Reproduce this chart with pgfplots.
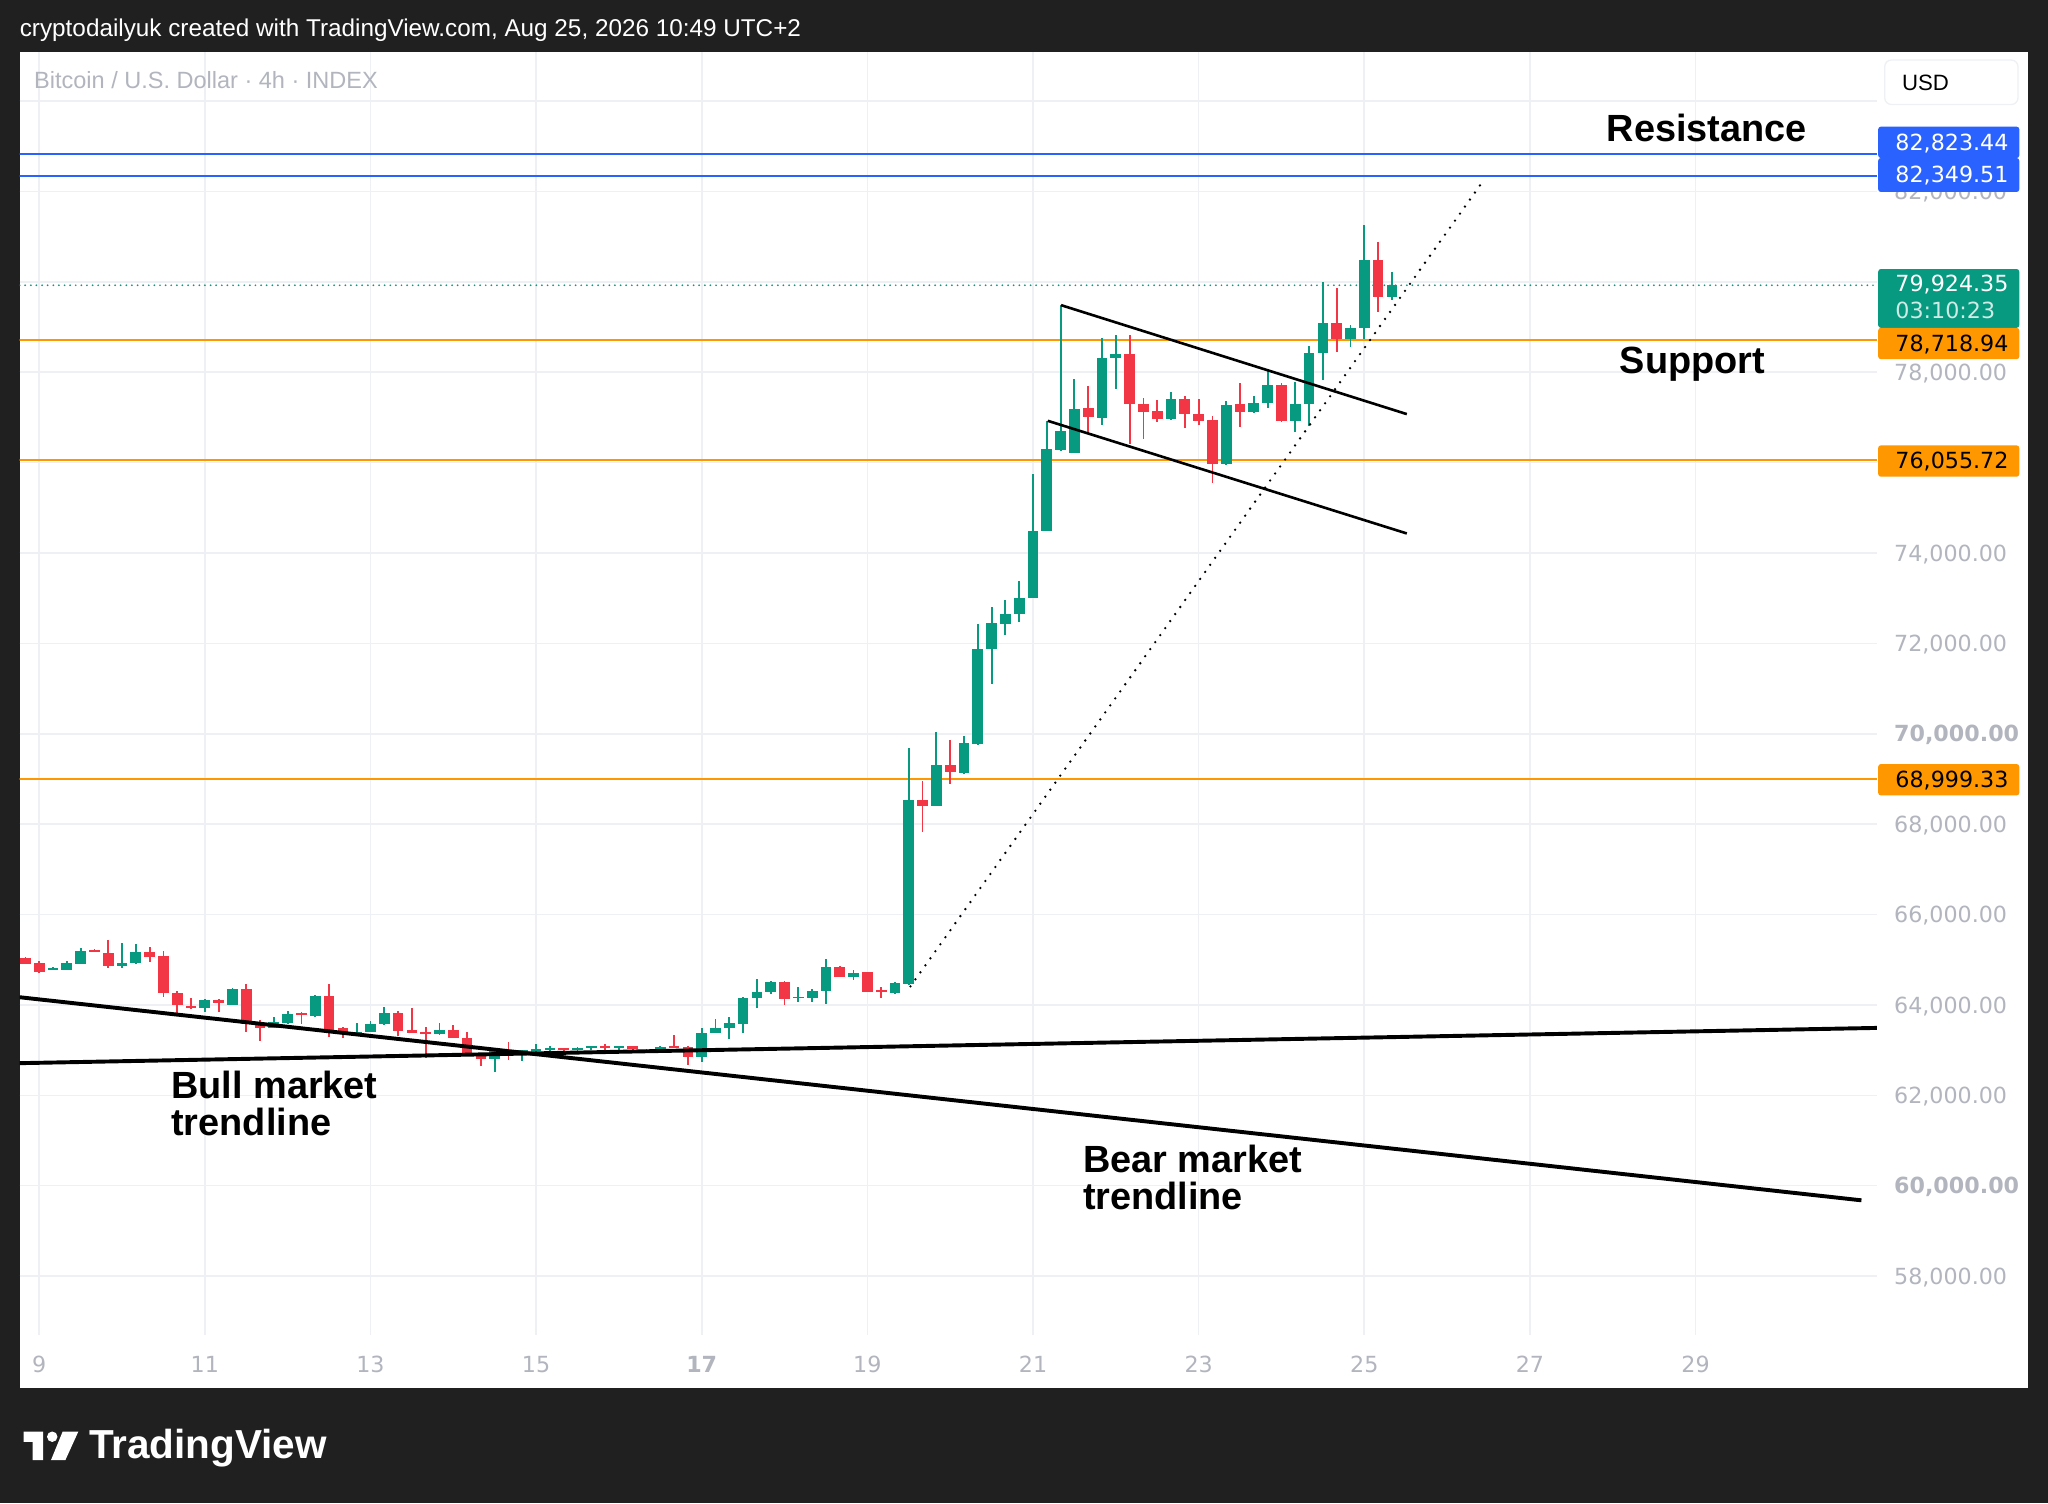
\documentclass[border=0pt]{standalone}
\usepackage{fontspec}
\setmainfont{Liberation Sans}
\newfontfamily\numfont{DejaVu Sans}
\usepackage{pgfplots}
\pgfplotsset{compat=1.18}
\usepackage{pgfplotstable}
\definecolor{bgc}{HTML}{202020}
\definecolor{tvgreen}{HTML}{089981}
\definecolor{tvred}{HTML}{F23645}
\definecolor{tvorange}{HTML}{FF9800}
\definecolor{tvblue}{HTML}{2962FF}
\definecolor{labc}{HTML}{B2B5BE}
\definecolor{gridc}{HTML}{EFF0F3}
\newcommand\labfont{\numfont\fontsize{17}{20}\selectfont}
\newcommand\annfont{\bfseries\fontsize{29}{29}\selectfont}

% candles: k = 4h index (day = 8.8333 + k/6), open high low close
\pgfplotstableread{
k o h l c
2 64780 64832 64780 64810
3 64780 64980 64780 64920
4 64913 65252 64913 65193
7 64869 65363 64810 64935
8 64935 65341 64913 65164
13 63925 64131 63851 64109
15 63999 64367 63999 64353
18 63482 63740 63482 63615
19 63593 63873 63571 63799
21 63762 64220 63740 64198
24 63349 63607 63320 63394
25 63408 63645 63394 63578
26 63578 63962 63556 63814
30 63349 63607 63335 63445
34 62805 63004 62510 63004
36 62967 63004 62761 63004
37 62982 63129 62930 63026
38 63004 63100 62952 63056
40 63004 63078 62930 63056
41 63041 63100 63004 63093
43 63056 63100 62967 63100
46 62952 63093 62952 63078
49 62857 63483 62731 63387
50 63373 63683 63373 63498
51 63483 63727 63247 63594
52 63579 64184 63388 64162
53 64147 64575 63941 64295
54 64280 64531 64236 64516
56 64147 64405 64074 64184
57 64147 64346 64074 64317
58 64310 65018 64015 64833
60 64612 64774 64553 64715
63 64258 64502 64236 64479
64 64457 69687 64440 68533
66 68407 70050 68391 69299
68 69141 69956 69118 69790
69 69766 72437 69750 71883
70 71868 72816 71093 72452
71 72437 72958 72184 72658
72 72658 73385 72484 72998
73 73013 75755 73013 74491
74 74491 76926 74491 76298
75 76283 79484 76261 76704
76 76224 77847 76210 77198
78 76999 78747 76829 78326
79 78326 78821 77640 78415
83 76962 77552 76947 77419
87 75966 77367 75951 77279
89 77124 77478 77109 77316
90 77316 78031 77205 77722
92 76925 77788 76682 77294
93 77294 78585 76814 78437
94 78422 80001 77832 79086
96 78732 79049 78548 78976
97 78976 81255 78732 80480
99 79669 80229 79602 79924
}\upc
\pgfplotstableread{
k o h l c
0 65046 65068 64906 64906
1 64920 64980 64714 64736
5 65216 65230 65179 65179
6 65157 65437 64825 64861
9 65164 65289 64957 65068
10 65083 65201 64168 64257
11 64271 64308 63777 63999
12 63984 64161 63903 63925
14 64109 64131 63836 64035
16 64353 64456 63408 63571
17 63571 63667 63202 63482
20 63814 63851 63571 63792
22 64198 64456 63298 63408
23 63482 63519 63261 63408
27 63814 63866 63320 63431
28 63445 63940 63371 63371
29 63408 63519 62833 63371
31 63445 63556 63261 63276
32 63276 63408 62877 62877
33 62930 62930 62657 62805
35 63004 63188 62783 62967
39 63041 63056 62967 62997
42 63093 63129 62997 63056
44 63093 63100 62997 63026
45 63004 63026 62930 62967
47 63100 63336 63056 63056
48 63078 63093 62672 62857
55 64516 64531 63999 64132
59 64833 64870 64612 64612
61 64723 64737 64280 64295
62 64332 64405 64147 64295
65 68533 68960 67822 68407
67 69299 69869 68881 69157
77 77198 77699 76630 76999
80 78415 78821 76409 77294
81 77294 77441 76534 77124
82 77139 77382 76888 76962
84 77419 77478 76777 77073
85 77087 77404 76836 76925
86 76947 77036 75560 75966
88 77294 77773 76792 77124
91 77722 77751 76888 76925
95 79086 79875 78459 78732
98 80480 80893 79344 79669
}\downc

\pgfplotsset{
  wick/.style={draw=none, mark=none, forget plot,
    error bars/.cd, y dir=both, y explicit, error mark=none,
    error bar style={line width=1.4pt, draw=#1}},
  body/.style={draw=none, mark=none, forget plot,
    error bars/.cd, y dir=both, y explicit, error mark=none,
    error bar style={line width=8.2pt, draw=#1}},
}

\begin{document}
\begin{tikzpicture}[x=1pt,y=1pt]
\useasboundingbox (0,0) rectangle (1568,1151);
\fill[bgc] (0,0) rectangle (1568,1151);
\fill[white] (15,88) rectangle (1553,1111);
\begin{axis}[
  at={(15pt,129pt)}, anchor=south west, scale only axis,
  width=1422pt, height=982pt,
  xmin=8.763, xmax=31.19, ymin=56699, ymax=85081,
  scaled ticks=false,
  axis line style={draw=none}, tick style={draw=none},
  xtick={9,11,...,29},
  xticklabels={9,11,13,15,\textbf{17},19,21,23,25,27,29},
  ytick={58000,60000,...,84000},
  yticklabels={{58,000.00},{\textbf{60,000.00}},{62,000.00},{64,000.00},{66,000.00},{68,000.00},{\textbf{70,000.00}},{72,000.00},{74,000.00},{76,000.00},{78,000.00},{80,000.00},{82,000.00},{}},
  yticklabel pos=right,
  yticklabel style={anchor=west, inner sep=0pt, xshift=13pt, text height=12.4pt, text depth=0pt, font=\labfont, text=labc},
  xticklabel style={anchor=base, inner sep=0pt, yshift=-29pt, font=\labfont, text=labc},
  grid=major, major grid style={draw=gridc, line width=1.2pt},
  clip=true,
]
% horizontal levels
\addplot[tvblue, line width=1.3pt] coordinates {(8.6,82823.44) (31.4,82823.44)};
\addplot[tvblue, line width=1.3pt] coordinates {(8.6,82349.51) (31.4,82349.51)};
\addplot[tvorange, line width=1.8pt] coordinates {(8.6,78718.94) (31.4,78718.94)};
\addplot[tvorange, line width=1.8pt] coordinates {(8.6,76055.72) (31.4,76055.72)};
\addplot[tvorange, line width=1.8pt] coordinates {(8.6,68999.33) (31.4,68999.33)};
\addplot[tvgreen, line width=1.5pt, line cap=round, dash pattern=on 0pt off 4.3pt] coordinates {(8.763,79924.35) (31.19,79924.35)};
% candles
\addplot[wick=tvgreen] table[x expr=\thisrow{k}/6+8.833333, y expr=(\thisrow{h}+\thisrow{l})/2, y error expr=(\thisrow{h}-\thisrow{l})/2]{\upc};
\addplot[wick=tvred] table[x expr=\thisrow{k}/6+8.833333, y expr=(\thisrow{h}+\thisrow{l})/2, y error expr=(\thisrow{h}-\thisrow{l})/2]{\downc};
\addplot[body=tvgreen] table[x expr=\thisrow{k}/6+8.833333, y expr=(\thisrow{o}+\thisrow{c})/2, y error expr={max(abs(\thisrow{c}-\thisrow{o})/2,18)}]{\upc};
\addplot[body=tvred] table[x expr=\thisrow{k}/6+8.833333, y expr=(\thisrow{o}+\thisrow{c})/2, y error expr={max(abs(\thisrow{c}-\thisrow{o})/2,18)}]{\downc};
% trendlines
\addplot[black, line width=3pt] coordinates {(8.763,64170) (31.003,59676)};
\addplot[black, line width=3pt] coordinates {(8.763,62711) (31.19,63491)};
\addplot[black, line width=2pt] coordinates {(21.339,79484) (25.514,77073)};
\addplot[black, line width=2pt] coordinates {(21.178,76925) (25.514,74432)};
\addplot[black, line width=2pt, line cap=round, dash pattern=on 0pt off 6.6pt] coordinates {(19.52,64410) (26.45,82269)};
\end{axis}

% header texts
\node[anchor=base west, inner sep=0pt, text=white, font=\fontsize{18.6}{20}\selectfont] at (15,1123) {cryptodailyuk created with TradingView.com, Aug 25, 2026 10:49 UTC+2};
\node[anchor=base west, inner sep=0pt, text=labc, font=\fontsize{18}{20}\selectfont] at (26,1083) {Bitcoin / U.S. Dollar · 4h · INDEX};

% USD box
\filldraw[fill=white, draw=gridc, line width=1pt, rounded corners=5pt] (1443,1071) rectangle (1545,1105);
\node[anchor=base west, inner sep=0pt, text=black, font=\fontsize{17}{20}\selectfont] at (1456,1082) {USD};

% price boxes
\fill[tvblue, rounded corners=2pt] (1438,1030) rectangle (1546,1054);
\node[anchor=base west, inner sep=0pt, text=white, font=\labfont] at (1451,1036) {82,823.44};
\fill[tvblue, rounded corners=2pt] (1438,1004) rectangle (1546,1030);
\node[anchor=base west, inner sep=0pt, text=white, font=\labfont] at (1451,1011) {82,349.51};
\fill[tvgreen, rounded corners=2pt] (1438,900) rectangle (1546,945);
\node[anchor=base west, inner sep=0pt, text=white, font=\labfont] at (1451,928) {79,924.35};
\node[anchor=base west, inner sep=0pt, text=white!80!tvgreen, font=\labfont] at (1451,907) {03:10:23};
\fill[tvorange, rounded corners=2pt] (1438,876) rectangle (1546,900);
\node[anchor=base west, inner sep=0pt, text=black, font=\labfont] at (1451,882) {78,718.94};
\fill[tvorange, rounded corners=2pt] (1438,786) rectangle (1546,810);
\node[anchor=base west, inner sep=0pt, text=black, font=\labfont] at (1451,792) {76,055.72};
\fill[tvorange, rounded corners=2pt] (1438,542) rectangle (1546,566);
\node[anchor=base west, inner sep=0pt, text=black, font=\labfont] at (1451,548) {68,999.33};

% annotations
\node[anchor=base west, inner sep=0pt, font=\annfont] at (1230,1043) {Resistance};
\node[anchor=base west, inner sep=0pt, font=\annfont] at (1240,865) {Support};
\node[anchor=base west, inner sep=0pt, font=\annfont] at (131,310) {Bull market};
\node[anchor=base west, inner sep=0pt, font=\annfont] at (131,282) {trendline};
\node[anchor=base west, inner sep=0pt, font=\annfont] at (829,253) {Bear market};
\node[anchor=base west, inner sep=0pt, font=\annfont] at (829,225) {trendline};

% TradingView logo
\fill[white] (18,55) -- (33,55) -- (33,33) -- (25,33) -- (25,47) -- (18,47) -- cycle;
\fill[white] (40,51) circle (4);
\fill[white] (48,55) -- (60,55) -- (50,33) -- (39,33) -- cycle;
\node[anchor=base west, inner sep=0pt, text=white, font=\bfseries\fontsize{31}{31}\selectfont] at (68,34) {TradingView};
\end{tikzpicture}
\end{document}
